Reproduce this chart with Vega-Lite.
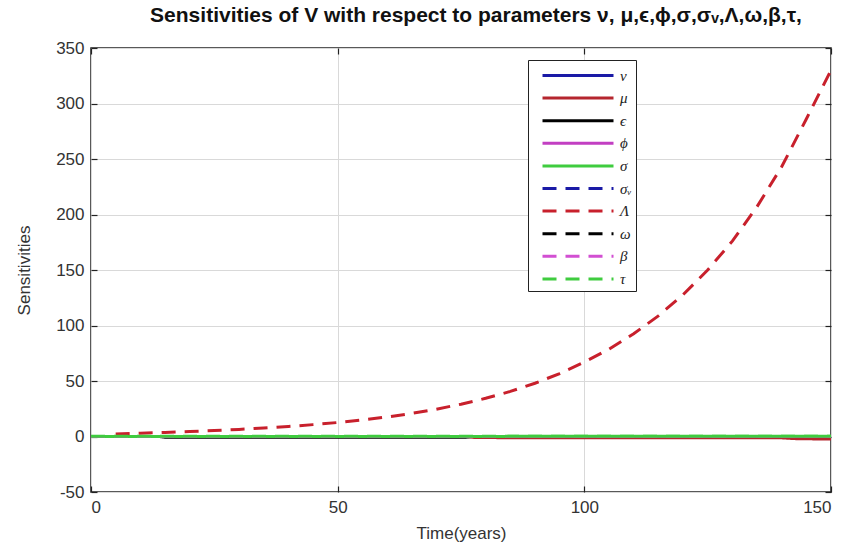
{
  "$schema": "https://vega.github.io/schema/vega-lite/v6.json",
  "width": 740,
  "height": 444,
  "autosize": "none",
  "padding": {"left": 91, "top": 48, "right": 33, "bottom": 53},
  "background": "white",
  "title": {
    "text": "Sensitivities of V with respect to parameters ν, μ,ϵ,ϕ,σ,σᵥ,Λ,ω,β,τ,",
    "font": "Liberation Sans",
    "fontSize": 21,
    "fontWeight": "bold",
    "color": "#111111",
    "anchor": "middle",
    "offset": 13,
    "dx": 15
  },
  "config": {
    "view": {"stroke": "#222222", "strokeWidth": 1.5},
    "axis": {
      "labelFont": "Liberation Sans",
      "labelFontSize": 17,
      "labelColor": "#333333",
      "titleFont": "Liberation Sans",
      "titleFontSize": 17,
      "titleFontWeight": "normal",
      "titleColor": "#333333",
      "domain": false,
      "tickColor": "#222222",
      "tickSize": -6,
      "tickWidth": 1.2,
      "gridColor": "#d9d9d9",
      "gridWidth": 1
    }
  },
  "data": {
    "values": [
      {"t": 0, "v": 0, "s": "ν"}, {"t": 150, "v": 0, "s": "ν"},
      {"t": 0, "v": 0, "s": "μ"}, {"t": 76, "v": 0, "s": "μ"}, {"t": 78, "v": -1.0, "s": "μ"}, {"t": 140, "v": -1.2, "s": "μ"}, {"t": 143, "v": -2.0, "s": "μ"}, {"t": 150, "v": -2.3, "s": "μ"},
      {"t": 0, "v": 0, "s": "ϵ"}, {"t": 14, "v": 0, "s": "ϵ"}, {"t": 15, "v": -0.7, "s": "ϵ"}, {"t": 76, "v": -0.7, "s": "ϵ"}, {"t": 77, "v": 0, "s": "ϵ"}, {"t": 150, "v": 0, "s": "ϵ"},
      {"t": 0, "v": 0, "s": "ϕ"}, {"t": 150, "v": 0, "s": "ϕ"},
      {"t": 0, "v": 0, "s": "σ"}, {"t": 150, "v": 0.2, "s": "σ"},
      {"t": 0, "v": 0, "s": "σᵥ"}, {"t": 150, "v": 0, "s": "σᵥ"},
      {"t": 5, "v": 2.3, "s": "Λ"}, {"t": 10, "v": 3.0, "s": "Λ"}, {"t": 15, "v": 3.7, "s": "Λ"}, {"t": 20, "v": 4.5, "s": "Λ"}, {"t": 25, "v": 5.4, "s": "Λ"}, {"t": 30, "v": 6.4, "s": "Λ"}, {"t": 35, "v": 7.6, "s": "Λ"}, {"t": 40, "v": 9.0, "s": "Λ"}, {"t": 45, "v": 10.7, "s": "Λ"}, {"t": 50, "v": 12.6, "s": "Λ"}, {"t": 55, "v": 14.9, "s": "Λ"}, {"t": 60, "v": 17.6, "s": "Λ"}, {"t": 65, "v": 20.8, "s": "Λ"}, {"t": 70, "v": 24.6, "s": "Λ"}, {"t": 75, "v": 29.1, "s": "Λ"}, {"t": 80, "v": 34.4, "s": "Λ"}, {"t": 85, "v": 40.6, "s": "Λ"}, {"t": 90, "v": 48.0, "s": "Λ"}, {"t": 95, "v": 56.7, "s": "Λ"}, {"t": 100, "v": 67.0, "s": "Λ"}, {"t": 105, "v": 78.7, "s": "Λ"}, {"t": 110, "v": 92.5, "s": "Λ"}, {"t": 115, "v": 108.7, "s": "Λ"}, {"t": 120, "v": 127.7, "s": "Λ"}, {"t": 125, "v": 150.0, "s": "Λ"}, {"t": 130, "v": 176.0, "s": "Λ"}, {"t": 135, "v": 207.0, "s": "Λ"}, {"t": 140, "v": 243.0, "s": "Λ"}, {"t": 145, "v": 286.0, "s": "Λ"}, {"t": 150, "v": 330.0, "s": "Λ"},
      {"t": 0, "v": 0, "s": "ω"}, {"t": 150, "v": 0, "s": "ω"},
      {"t": 0, "v": 0, "s": "β"}, {"t": 150, "v": 0, "s": "β"},
      {"t": 0, "v": 0.3, "s": "τ"}, {"t": 150, "v": 0.3, "s": "τ"}
    ]
  },
  "layer": [
    {
      "mark": {"type": "line", "strokeWidth": 3, "clip": true},
      "encoding": {
        "x": {
          "field": "t", "type": "quantitative",
          "scale": {"domain": [0, 150], "nice": false},
          "axis": {"values": [0, 50, 100, 150], "title": "Time(years)", "titlePadding": 10, "labelPadding": 13}
        },
        "y": {
          "field": "v", "type": "quantitative",
          "scale": {"domain": [-50, 350], "nice": false},
          "axis": {"values": [-50, 0, 50, 100, 150, 200, 250, 300, 350], "labelExpr": "'' + datum.value", "title": "Sensitivities", "titlePadding": 22, "labelPadding": 13}
        },
        "color": {
          "field": "s", "type": "nominal",
          "scale": {
            "domain": ["ν", "μ", "ϵ", "ϕ", "σ", "σᵥ", "Λ", "ω", "β", "τ"],
            "range": ["#1a1aa6", "#b5262e", "#000000", "#c23fc2", "#3fcc3f", "#1a1aa6", "#c8202c", "#000000", "#d24fd2", "#3fcc3f"]
          },
          "legend": {
            "title": null,
            "orient": "none",
            "legendX": 437,
            "legendY": 12,
            "symbolType": "M-0.1,0H7",
            "symbolSize": 400,
            "symbolStrokeWidth": 3,
            "labelOffset": 65,
            "labelFont": "Liberation Serif",
            "labelFontStyle": "italic",
            "labelFontSize": 15,
            "labelColor": "#222222",
            "rowPadding": 2.6,
            "strokeColor": "#222222",
            "fillColor": "white",
            "padding": 4
          }
        },
        "strokeDash": {
          "field": "s", "type": "nominal",
          "scale": {
            "domain": ["ν", "μ", "ϵ", "ϕ", "σ", "σᵥ", "Λ", "ω", "β", "τ"],
            "range": [[1, 0], [1, 0], [1, 0], [1, 0], [1, 0], [14, 9], [14, 9], [14, 9], [14, 9], [14, 9]]
          }
        },
        "order": {"field": "t", "type": "quantitative"}
      }
    },
    {
      "mark": {"type": "point", "opacity": 0},
      "encoding": {
        "x": {
          "field": "t", "type": "quantitative",
          "axis": {"orient": "top", "values": [0, 50, 100, 150], "labels": false, "title": null, "grid": false}
        },
        "y": {
          "field": "v", "type": "quantitative",
          "axis": {"orient": "right", "values": [-50, 0, 50, 100, 150, 200, 250, 300, 350], "labels": false, "title": null, "grid": false}
        }
      }
    }
  ],
  "resolve": {"axis": {"x": "independent", "y": "independent"}}
}
